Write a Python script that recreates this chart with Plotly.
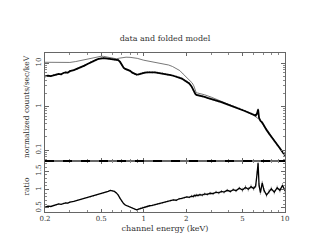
import plotly.graph_objects as go
from plotly.subplots import make_subplots

# ---- data ----
energy = [0.20,0.21,0.22,0.23,0.24,0.25,0.26,0.27,0.28,0.29,0.30,0.32,0.34,0.36,0.38,0.40,0.42,0.44,0.46,0.48,
          0.50,0.52,0.54,0.56,0.58,0.60,0.62,0.64,0.66,0.68,0.70,0.72,0.74,0.76,0.78,0.80,0.83,0.86,0.89,0.92,
          0.95,0.98,1.02,1.06,1.10,1.15,1.20,1.25,1.30,1.36,1.42,1.48,1.55,1.62,1.70,1.78,1.86,1.94,2.02,2.10,
          2.18,2.24,2.28,2.32,2.36,2.42,2.50,2.60,2.70,2.82,2.95,3.10,3.25,3.40,3.55,3.70,3.90,4.10,4.30,4.50,
          4.75,5.00,5.25,5.50,5.75,6.00,6.20,6.35,6.45,6.55,6.70,6.90,7.10,7.40,7.70,8.00,8.40,8.80,9.20,9.60,10.0]

counts = [4.9,5.1,5.0,5.3,5.4,5.6,5.5,5.9,6.1,6.0,6.5,6.9,7.4,8.0,8.7,9.5,10.4,11.0,11.8,12.5,
          12.9,13.0,12.8,12.6,12.5,12.3,12.0,11.9,11.6,10.6,9.0,7.8,7.3,7.1,6.9,6.6,6.0,5.6,5.4,5.5,
          5.7,5.9,6.0,6.1,6.2,6.1,6.1,6.0,5.9,5.8,5.6,5.4,5.3,5.1,4.9,4.7,4.4,4.0,3.75,3.4,
          2.9,2.4,2.1,1.95,1.85,1.82,1.78,1.72,1.66,1.58,1.52,1.44,1.37,1.31,1.26,1.20,1.13,1.07,1.01,0.96,
          0.90,0.84,0.78,0.73,0.69,0.64,0.62,0.70,0.86,0.55,0.47,0.43,0.36,0.29,0.24,0.20,0.16,0.13,0.11,0.09,0.075]

model_energy = [0.20,0.22,0.25,0.28,0.30,0.33,0.36,0.40,0.44,0.48,0.50,0.52,0.55,0.58,0.61,0.64,0.67,0.70,0.75,0.80,
                0.90,1.0,1.1,1.2,1.3,1.4,1.5,1.6,1.7,1.8,1.9,2.0,2.1,2.2,2.26,2.3,2.35,2.4,2.5,2.7,
                3.0,3.5,4.0,4.5,5.0,5.5,6.0,6.3,6.6,7.0,7.5,8.0,8.5,9.0,9.5,10.0]
model = [10.4,10.3,10.1,10.1,10.3,10.8,11.5,12.4,13.3,14.1,14.3,14.2,13.6,13.0,12.5,12.5,12.9,13.3,13.6,13.5,
         12.8,11.6,11.0,10.5,10.0,9.5,9.0,8.3,7.5,6.7,5.6,4.8,4.0,3.5,3.0,2.5,2.1,2.05,2.0,1.86,
         1.65,1.35,1.12,0.97,0.84,0.73,0.63,0.57,0.50,0.38,0.29,0.21,0.16,0.12,0.095,0.075]

ratio = [0.52,0.55,0.54,0.57,0.58,0.61,0.60,0.63,0.64,0.63,0.66,0.68,0.71,0.73,0.76,0.78,0.80,0.82,0.84,0.87,
         0.89,0.91,0.93,0.95,0.98,0.97,0.95,0.91,0.85,0.76,0.68,0.62,0.58,0.56,0.55,0.53,0.50,0.47,0.45,0.47,
         0.49,0.51,0.52,0.54,0.56,0.57,0.59,0.61,0.62,0.64,0.66,0.68,0.70,0.72,0.71,0.75,0.76,0.78,0.80,0.79,
         0.82,0.81,0.84,0.83,0.85,0.84,0.86,0.85,0.88,0.87,0.90,0.89,0.93,0.91,0.95,0.93,0.98,0.95,1.00,0.97,
         1.04,0.99,1.06,1.01,1.08,1.03,1.10,1.45,1.72,1.12,0.92,1.18,0.98,0.85,0.95,1.02,0.93,1.05,0.98,1.12,0.97]

ratio_err = [0.015,0.015,0.015,0.015,0.015,0.015,0.015,0.015,0.015,0.015,
             0.015,0.015,0.015,0.015,0.015,0.015,0.015,0.015,0.015,0.015,
             0.015,0.015,0.015,0.015,0.015,0.015,0.015,0.015,0.015,0.015,
             0.015,0.015,0.015,0.015,0.015,0.015,0.015,0.015,0.015,0.015,
             0.025,0.025,0.025,0.025,0.025,0.025,0.025,0.025,0.025,0.025,
             0.025,0.025,0.025,0.025,0.025,0.025,0.025,0.025,0.025,0.025,
             0.04,0.04,0.04,0.04,0.04,0.04,0.04,0.04,0.04,0.04,
             0.04,0.04,0.04,0.04,0.04,0.04,0.04,0.04,0.04,0.04,0.04,
             0.06,0.06,0.06,0.06,0.06,0.06,0.06,0.06,0.06,0.06,
             0.06,0.06,0.06,0.06,0.06,0.06,0.06,0.06,0.06,0.06]

x_ticks = [0.2, 0.5, 1, 2, 5, 10]
x_ticktext = ["0.2", "0.5", "1", "2", "5", "10"]
y_ticks = [0.1, 1, 10]
y_ticktext = ["0.1", "1", "10"]
r_ticks = [0.5, 1, 1.5]
r_ticktext = ["0.5", "1", "1.5"]

FONT = "DejaVu Serif"
TXT = "#333333"

fig = make_subplots(rows=2, cols=1, shared_xaxes=True, vertical_spacing=0,
                    row_heights=[0.679, 0.321])

fig.add_trace(go.Scatter(x=model_energy, y=model, mode="lines",
                         line=dict(color="#555555", width=0.8), showlegend=False), row=1, col=1)
fig.add_trace(go.Scatter(x=energy, y=counts, mode="lines",
                         line=dict(color="black", width=1.8),
                         error_y=dict(type="percent", value=5, color="#777777", thickness=0.8, width=0),
                         showlegend=False), row=1, col=1)
fig.add_trace(go.Scatter(x=energy, y=ratio, mode="lines",
                         line=dict(color="black", width=1.3),
                         error_y=dict(type="data", array=ratio_err, color="#888888", thickness=0.8, width=0),
                         showlegend=False), row=2, col=1)
fig.add_hline(y=1, line=dict(color="#888888", width=0.8, dash="dash"), row=2, col=1)

axis_common = dict(showgrid=False, zeroline=False, showline=True, linecolor="#666666",
                   linewidth=1, mirror="ticks", ticks="inside", tickcolor="#666666",
                   tickfont=dict(family=FONT, size=7, color=TXT))

fig.update_xaxes(type="log", range=[-0.69897, 1.0], tickvals=x_ticks, ticktext=x_ticktext,
                 ticklen=3, minor=dict(ticks="inside", ticklen=2, dtick="D1", tickcolor="#888888"),
                 **axis_common)
fig.update_xaxes(showticklabels=False, row=1, col=1)
fig.update_xaxes(title=dict(text="channel energy (keV)", font=dict(family=FONT, size=8, color=TXT),
                            standoff=2), row=2, col=1)

fig.update_yaxes(type="log", range=[-1.25, 1.23], tickvals=y_ticks, ticktext=y_ticktext,
                 ticklen=4, tickangle=-90,
                 minor=dict(ticks="inside", ticklen=2, dtick="D1", tickcolor="#888888"),
                 title=dict(text="normalized counts/sec/keV", font=dict(family=FONT, size=7.5, color=TXT),
                            standoff=4),
                 row=1, col=1, **axis_common)
fig.update_yaxes(range=[0.39, 1.78], tickvals=r_ticks, ticktext=r_ticktext, ticklen=4, tickangle=-90,
                 minor=dict(ticks="inside", ticklen=2, dtick=0.1, tickcolor="#888888"),
                 title=dict(text="ratio", font=dict(family=FONT, size=7.5, color=TXT), standoff=4),
                 row=2, col=1, **axis_common)

fig.update_layout(
    width=314, height=243,
    margin=dict(l=37, r=37, t=45, b=39),
    paper_bgcolor="white", plot_bgcolor="white",
    title=dict(text="data and folded model", x=0.5, xanchor="center", y=1 - 30/243, yanchor="middle",
               font=dict(family=FONT, size=8, color=TXT)),
    shapes=[dict(type="line", xref="paper", yref="paper", x0=0, x1=1, y0=0.321, y1=0.321,
                 line=dict(color="black", width=2))],
)

fig.write_html("out.html")
